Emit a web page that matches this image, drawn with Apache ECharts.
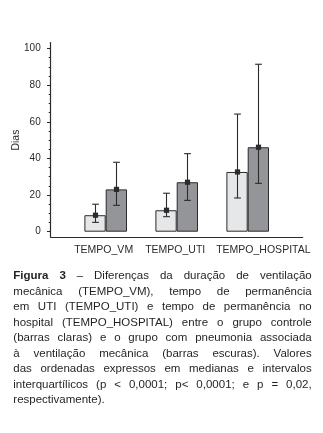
<!DOCTYPE html>
<html><head><meta charset="utf-8">
<script src="https://cdn.jsdelivr.net/npm/echarts@6/dist/echarts.min.js"></script>
<style>html,body{margin:0;padding:0;background:#fff}#c{width:323px;height:433px}</style>
</head><body><div id="c"></div>
<script>
// ---- data ----
const categories = ['TEMPO_VM', 'TEMPO_UTI', 'TEMPO_HOSPITAL'];
const controlMedian = [9.0, 11.7, 32.6];
const controlQ1 = [5.1, 8.2, 18.4];
const controlQ3 = [15.0, 21.0, 64.2];
const vapMedian = [23.1, 27.0, 46.1];
const vapQ1 = [14.4, 17.1, 26.4];
const vapQ3 = [37.9, 42.6, 91.4];
const yTickValues = [0, 20, 40, 60, 80, 100];
const yAxisTitle = 'Dias';
const captionBoldWords = ['Figura', '3'];
const captionLines = [
  'Figura 3 – Diferenças da duração de ventilação',
  'mecânica (TEMPO_VM), tempo de permanência',
  'em UTI (TEMPO_UTI) e tempo de permanência no',
  'hospital (TEMPO_HOSPITAL) entre o grupo controle',
  '(barras claras) e o grupo com pneumonia associada',
  'à ventilação mecânica (barras escuras). Valores',
  'das ordenadas expressos em medianas e intervalos',
  'interquartílicos (p < 0,0001; p< 0,0001; e p = 0,02,',
  'respectivamente).'
];

// ---- style ----
const INK = '#2b2b2b';
const LIGHT = '#e6e7e8';
const DARK = '#939598';
const FONT = '"Liberation Sans", Arial, sans-serif';
const CAP_SIZE = 11.5;
const CAP_LEFT = 13.3, CAP_RIGHT = 311.7, CAP_TOP = 276, CAP_LH = 15.5;

const chart = echarts.init(document.getElementById('c'));

// error bars + median markers through the axis scales
function errRender(side) {
  return function (params, api) {
    const i = api.value(0);
    const band = api.size([1, 0])[0];
    const dx = side * band * 0.15;
    const pMed = api.coord([i, api.value(1)]);
    const pLo = api.coord([i, api.value(2)]);
    const pHi = api.coord([i, api.value(3)]);
    const x = Math.round(pMed[0] + dx) + 0.5;
    const cap = 3.4, m = 2.6;
    const ls = { stroke: INK, lineWidth: 1.1 };
    return {
      type: 'group',
      children: [
        { type: 'line', shape: { x1: x, y1: pLo[1], x2: x, y2: pHi[1] }, style: ls },
        { type: 'line', shape: { x1: x - cap, y1: pLo[1], x2: x + cap, y2: pLo[1] }, style: ls },
        { type: 'line', shape: { x1: x - cap, y1: pHi[1], x2: x + cap, y2: pHi[1] }, style: ls },
        { type: 'rect', shape: { x: x - m, y: pMed[1] - m, width: 2 * m, height: 2 * m }, style: { fill: INK } }
      ]
    };
  };
}

// caption: justified lines measured with canvas
const ctx = document.createElement('canvas').getContext('2d');
function fontStr(bold) { return (bold ? 'bold ' : '') + CAP_SIZE + 'px ' + FONT; }
function measure(t, bold) { ctx.font = fontStr(bold); return ctx.measureText(t).width; }
const captionGraphics = [];
captionLines.forEach((line, li) => {
  const words = line.split(' ');
  const bolds = words.map((w, wi) => li === 0 && wi < captionBoldWords.length && captionBoldWords[wi] === w);
  const widths = words.map((w, wi) => measure(w, bolds[wi]));
  const total = widths.reduce((a, b) => a + b, 0);
  const last = li === captionLines.length - 1;
  const gap = last ? measure(' ', false) : (CAP_RIGHT - CAP_LEFT - total) / (words.length - 1);
  let x = CAP_LEFT;
  const y = CAP_TOP + li * CAP_LH;
  words.forEach((w, wi) => {
    captionGraphics.push({
      type: 'text', x: x, y: y,
      style: {
        text: w, fill: '#231f20', fontSize: CAP_SIZE, fontFamily: FONT,
        fontWeight: bolds[wi] ? 'bold' : 'normal', verticalAlign: 'middle', align: 'left'
      }
    });
    x += widths[wi] + gap;
  });
});

const option = {
  animation: false,
  backgroundColor: '#fff',
  grid: [
    { left: 70.2, right: 39.8, top: 48.5, bottom: 201.3, outerBoundsMode: 'none', containLabel: false },   // bars
    { left: 50.7, right: 20.3, top: 42.5, bottom: 196, outerBoundsMode: 'none', containLabel: false },     // axis frame
    { left: 38.7, right: 71.3, top: 48.5, bottom: 201.3, outerBoundsMode: 'none', containLabel: false }    // category labels
  ],
  xAxis: [
    { type: 'category', gridIndex: 0, data: categories,
      axisLine: { show: false }, axisTick: { show: false }, axisLabel: { show: false } },
    { type: 'value', gridIndex: 1, min: 0, max: 1,
      axisLine: { show: true, lineStyle: { color: INK, width: 1.2 } },
      axisTick: { show: false }, axisLabel: { show: false }, splitLine: { show: false } },
    { type: 'category', gridIndex: 2, data: categories,
      axisLine: { show: false }, axisTick: { show: false },
      axisLabel: { align: 'left', margin: 13, fontSize: 10.5, color: INK, fontFamily: FONT,
        interval: 0, hideOverlap: false } }
  ],
  yAxis: [
    { type: 'value', gridIndex: 0, min: 0, max: 100, interval: 20, offset: 19.5,
      axisLine: { show: false },
      axisTick: { show: true, length: 3.7, lineStyle: { color: INK, width: 1 } },
      minorTick: { show: true, splitNumber: 4, length: 2, lineStyle: { color: INK, width: 1 } },
      axisLabel: { margin: 10, fontSize: 10, color: INK, fontFamily: FONT, customValues: yTickValues },
      splitLine: { show: false },
      name: yAxisTitle, nameLocation: 'middle', nameGap: 29, nameMoveOverlap: false,
      nameTextStyle: { fontSize: 10.5, color: INK, fontFamily: FONT } },
    { type: 'value', gridIndex: 1, min: 0, max: 1,
      axisLine: { show: true, lineStyle: { color: INK, width: 1.2 } },
      axisTick: { show: false }, axisLabel: { show: false }, splitLine: { show: false } },
    { type: 'value', gridIndex: 2, min: 0, max: 100, show: false }
  ],
  series: [
    { type: 'bar', xAxisIndex: 0, yAxisIndex: 0, data: controlMedian, barWidth: '30%', barGap: '0%',
      itemStyle: { color: LIGHT, borderColor: INK, borderWidth: 1 } },
    { type: 'bar', xAxisIndex: 0, yAxisIndex: 0, data: vapMedian, barWidth: '30%', barGap: '0%',
      itemStyle: { color: DARK, borderColor: INK, borderWidth: 1 } },
    { type: 'custom', xAxisIndex: 0, yAxisIndex: 0, renderItem: errRender(-1), z: 5,
      encode: { x: 0, y: [1, 2, 3] },
      data: categories.map((c, i) => [i, controlMedian[i], controlQ1[i], controlQ3[i]]) },
    { type: 'custom', xAxisIndex: 0, yAxisIndex: 0, renderItem: errRender(1), z: 5,
      encode: { x: 0, y: [1, 2, 3] },
      data: categories.map((c, i) => [i, vapMedian[i], vapQ1[i], vapQ3[i]]) }
  ],
  graphic: captionGraphics
};
chart.setOption(option);
</script></body></html>
